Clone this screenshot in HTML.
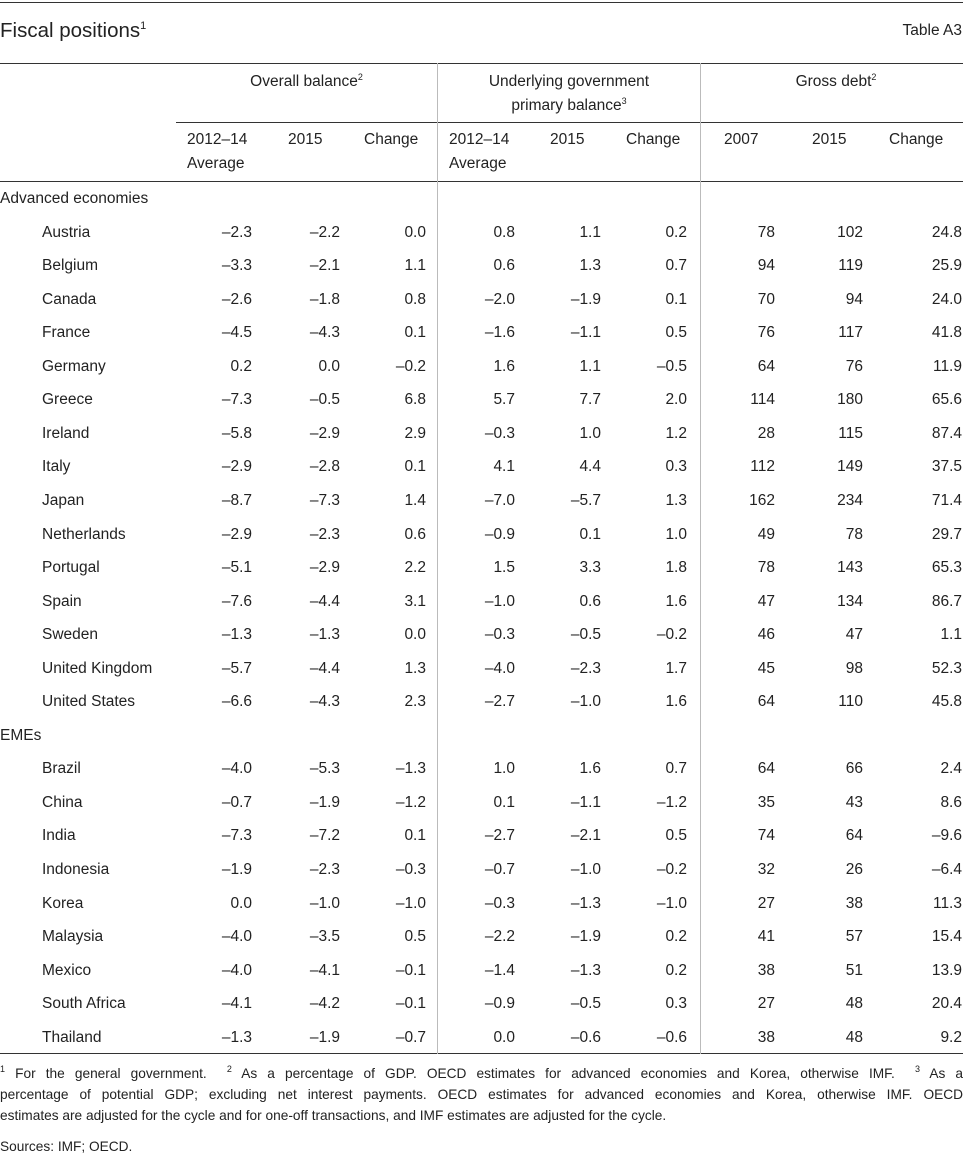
<!DOCTYPE html>
<html><head><meta charset="utf-8"><style>
body{margin:0;width:963px;height:1171px;background:#fff;position:relative;font-family:"Liberation Sans",sans-serif;color:#222;overflow:hidden}
.a{position:absolute;white-space:nowrap}
.h{position:absolute;height:1px;background:#333}
.v{position:absolute;width:1px;background:#bbb;top:63px;height:991px}
.r{position:absolute;left:0;width:963px;height:20px;line-height:20px;font-size:15.5px}
.r span{position:absolute;text-align:right}
.n{left:42px}
.r .g{left:0}
.c1{right:711px}.c2{right:623px}.c3{right:537px}.c4{right:448px}.c5{right:362px}.c6{right:276px}.c7{right:188px}.c8{right:100px}.c9{right:1px}
sup{font-size:9px;vertical-align:6px;line-height:0}
.hd{font-size:15.5px;position:absolute;line-height:24px}
.f{position:absolute;left:0;width:963px;font-size:13.7px;line-height:21px;text-align:justify;white-space:nowrap}
</style></head><body>
<div class="h" style="top:2px;left:0;width:963px"></div>
<div class="a" style="left:0;top:19px;font-size:20.5px">Fiscal positions<sup style="font-size:11px;vertical-align:8px">1</sup></div>
<div class="a" style="right:1px;top:22px;font-size:15.5px">Table A3</div>
<div class="h" style="top:63px;left:0;width:963px"></div>
<div class="h" style="top:122px;left:176px;width:787px"></div>
<div class="h" style="top:181px;left:0;width:963px"></div>
<div class="h" style="top:1053px;left:0;width:963px"></div>
<div class="v" style="left:437px"></div>
<div class="v" style="left:700px"></div>
<div class="hd" style="left:176px;width:261px;text-align:center;top:70px">Overall balance<sup>2</sup></div>
<div class="hd" style="left:438px;width:262px;text-align:center;top:70px">Underlying government<br>primary balance<sup>3</sup></div>
<div class="hd" style="left:701px;width:262px;text-align:center;top:70px;padding-left:8px;box-sizing:border-box">Gross debt<sup>2</sup></div>
<div class="hd" style="left:187px;top:128px">2012–14<br>Average</div>
<div class="hd" style="left:288px;top:128px">2015</div>
<div class="hd" style="left:364px;top:128px">Change</div>
<div class="hd" style="left:449px;top:128px">2012–14<br>Average</div>
<div class="hd" style="left:550px;top:128px">2015</div>
<div class="hd" style="left:626px;top:128px">Change</div>
<div class="hd" style="left:724px;top:128px">2007</div>
<div class="hd" style="left:812px;top:128px">2015</div>
<div class="hd" style="left:889px;top:128px">Change</div>

<div class="r" style="top:189px"><span class="g">Advanced economies</span></div>
<div class="r" style="top:223px"><span class="n">Austria</span><span class="c1">–2.3</span><span class="c2">–2.2</span><span class="c3">0.0</span><span class="c4">0.8</span><span class="c5">1.1</span><span class="c6">0.2</span><span class="c7">78</span><span class="c8">102</span><span class="c9">24.8</span></div>
<div class="r" style="top:256px"><span class="n">Belgium</span><span class="c1">–3.3</span><span class="c2">–2.1</span><span class="c3">1.1</span><span class="c4">0.6</span><span class="c5">1.3</span><span class="c6">0.7</span><span class="c7">94</span><span class="c8">119</span><span class="c9">25.9</span></div>
<div class="r" style="top:290px"><span class="n">Canada</span><span class="c1">–2.6</span><span class="c2">–1.8</span><span class="c3">0.8</span><span class="c4">–2.0</span><span class="c5">–1.9</span><span class="c6">0.1</span><span class="c7">70</span><span class="c8">94</span><span class="c9">24.0</span></div>
<div class="r" style="top:323px"><span class="n">France</span><span class="c1">–4.5</span><span class="c2">–4.3</span><span class="c3">0.1</span><span class="c4">–1.6</span><span class="c5">–1.1</span><span class="c6">0.5</span><span class="c7">76</span><span class="c8">117</span><span class="c9">41.8</span></div>
<div class="r" style="top:357px"><span class="n">Germany</span><span class="c1">0.2</span><span class="c2">0.0</span><span class="c3">–0.2</span><span class="c4">1.6</span><span class="c5">1.1</span><span class="c6">–0.5</span><span class="c7">64</span><span class="c8">76</span><span class="c9">11.9</span></div>
<div class="r" style="top:390px"><span class="n">Greece</span><span class="c1">–7.3</span><span class="c2">–0.5</span><span class="c3">6.8</span><span class="c4">5.7</span><span class="c5">7.7</span><span class="c6">2.0</span><span class="c7">114</span><span class="c8">180</span><span class="c9">65.6</span></div>
<div class="r" style="top:424px"><span class="n">Ireland</span><span class="c1">–5.8</span><span class="c2">–2.9</span><span class="c3">2.9</span><span class="c4">–0.3</span><span class="c5">1.0</span><span class="c6">1.2</span><span class="c7">28</span><span class="c8">115</span><span class="c9">87.4</span></div>
<div class="r" style="top:457px"><span class="n">Italy</span><span class="c1">–2.9</span><span class="c2">–2.8</span><span class="c3">0.1</span><span class="c4">4.1</span><span class="c5">4.4</span><span class="c6">0.3</span><span class="c7">112</span><span class="c8">149</span><span class="c9">37.5</span></div>
<div class="r" style="top:491px"><span class="n">Japan</span><span class="c1">–8.7</span><span class="c2">–7.3</span><span class="c3">1.4</span><span class="c4">–7.0</span><span class="c5">–5.7</span><span class="c6">1.3</span><span class="c7">162</span><span class="c8">234</span><span class="c9">71.4</span></div>
<div class="r" style="top:525px"><span class="n">Netherlands</span><span class="c1">–2.9</span><span class="c2">–2.3</span><span class="c3">0.6</span><span class="c4">–0.9</span><span class="c5">0.1</span><span class="c6">1.0</span><span class="c7">49</span><span class="c8">78</span><span class="c9">29.7</span></div>
<div class="r" style="top:558px"><span class="n">Portugal</span><span class="c1">–5.1</span><span class="c2">–2.9</span><span class="c3">2.2</span><span class="c4">1.5</span><span class="c5">3.3</span><span class="c6">1.8</span><span class="c7">78</span><span class="c8">143</span><span class="c9">65.3</span></div>
<div class="r" style="top:592px"><span class="n">Spain</span><span class="c1">–7.6</span><span class="c2">–4.4</span><span class="c3">3.1</span><span class="c4">–1.0</span><span class="c5">0.6</span><span class="c6">1.6</span><span class="c7">47</span><span class="c8">134</span><span class="c9">86.7</span></div>
<div class="r" style="top:625px"><span class="n">Sweden</span><span class="c1">–1.3</span><span class="c2">–1.3</span><span class="c3">0.0</span><span class="c4">–0.3</span><span class="c5">–0.5</span><span class="c6">–0.2</span><span class="c7">46</span><span class="c8">47</span><span class="c9">1.1</span></div>
<div class="r" style="top:659px"><span class="n">United Kingdom</span><span class="c1">–5.7</span><span class="c2">–4.4</span><span class="c3">1.3</span><span class="c4">–4.0</span><span class="c5">–2.3</span><span class="c6">1.7</span><span class="c7">45</span><span class="c8">98</span><span class="c9">52.3</span></div>
<div class="r" style="top:692px"><span class="n">United States</span><span class="c1">–6.6</span><span class="c2">–4.3</span><span class="c3">2.3</span><span class="c4">–2.7</span><span class="c5">–1.0</span><span class="c6">1.6</span><span class="c7">64</span><span class="c8">110</span><span class="c9">45.8</span></div>
<div class="r" style="top:726px"><span class="g">EMEs</span></div>
<div class="r" style="top:759px"><span class="n">Brazil</span><span class="c1">–4.0</span><span class="c2">–5.3</span><span class="c3">–1.3</span><span class="c4">1.0</span><span class="c5">1.6</span><span class="c6">0.7</span><span class="c7">64</span><span class="c8">66</span><span class="c9">2.4</span></div>
<div class="r" style="top:793px"><span class="n">China</span><span class="c1">–0.7</span><span class="c2">–1.9</span><span class="c3">–1.2</span><span class="c4">0.1</span><span class="c5">–1.1</span><span class="c6">–1.2</span><span class="c7">35</span><span class="c8">43</span><span class="c9">8.6</span></div>
<div class="r" style="top:826px"><span class="n">India</span><span class="c1">–7.3</span><span class="c2">–7.2</span><span class="c3">0.1</span><span class="c4">–2.7</span><span class="c5">–2.1</span><span class="c6">0.5</span><span class="c7">74</span><span class="c8">64</span><span class="c9">–9.6</span></div>
<div class="r" style="top:860px"><span class="n">Indonesia</span><span class="c1">–1.9</span><span class="c2">–2.3</span><span class="c3">–0.3</span><span class="c4">–0.7</span><span class="c5">–1.0</span><span class="c6">–0.2</span><span class="c7">32</span><span class="c8">26</span><span class="c9">–6.4</span></div>
<div class="r" style="top:894px"><span class="n">Korea</span><span class="c1">0.0</span><span class="c2">–1.0</span><span class="c3">–1.0</span><span class="c4">–0.3</span><span class="c5">–1.3</span><span class="c6">–1.0</span><span class="c7">27</span><span class="c8">38</span><span class="c9">11.3</span></div>
<div class="r" style="top:927px"><span class="n">Malaysia</span><span class="c1">–4.0</span><span class="c2">–3.5</span><span class="c3">0.5</span><span class="c4">–2.2</span><span class="c5">–1.9</span><span class="c6">0.2</span><span class="c7">41</span><span class="c8">57</span><span class="c9">15.4</span></div>
<div class="r" style="top:961px"><span class="n">Mexico</span><span class="c1">–4.0</span><span class="c2">–4.1</span><span class="c3">–0.1</span><span class="c4">–1.4</span><span class="c5">–1.3</span><span class="c6">0.2</span><span class="c7">38</span><span class="c8">51</span><span class="c9">13.9</span></div>
<div class="r" style="top:994px"><span class="n">South Africa</span><span class="c1">–4.1</span><span class="c2">–4.2</span><span class="c3">–0.1</span><span class="c4">–0.9</span><span class="c5">–0.5</span><span class="c6">0.3</span><span class="c7">27</span><span class="c8">48</span><span class="c9">20.4</span></div>
<div class="r" style="top:1028px"><span class="n">Thailand</span><span class="c1">–1.3</span><span class="c2">–1.9</span><span class="c3">–0.7</span><span class="c4">0.0</span><span class="c5">–0.6</span><span class="c6">–0.6</span><span class="c7">38</span><span class="c8">48</span><span class="c9">9.2</span></div>

<div class="f" style="top:1063px;text-align-last:justify;white-space:normal"><sup>1</sup> For the general government. &nbsp;<sup>2</sup> As a percentage of GDP. OECD estimates for advanced economies and Korea, otherwise IMF. &nbsp;<sup>3</sup> As a</div>
<div class="f" style="top:1084px;text-align-last:justify;white-space:normal">percentage of potential GDP; excluding net interest payments. OECD estimates for advanced economies and Korea, otherwise IMF. OECD</div>
<div class="f" style="top:1105px">estimates are adjusted for the cycle and for one-off transactions, and IMF estimates are adjusted for the cycle.</div>
<div class="f" style="top:1136px">Sources: IMF; OECD.</div>
</body></html>
